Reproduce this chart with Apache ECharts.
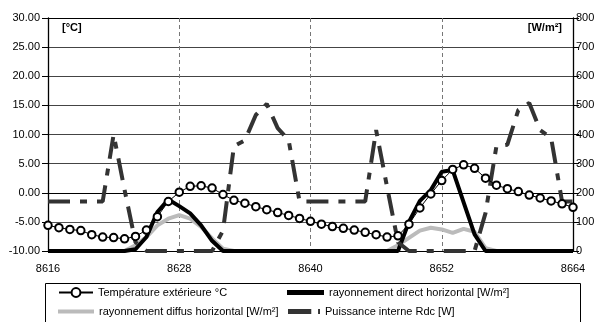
<!DOCTYPE html>
<html><head><meta charset="utf-8">
<script src="https://cdn.jsdelivr.net/npm/echarts@6/dist/echarts.min.js"></script>
<style>html,body{margin:0;padding:0;background:#fff}#c{width:602px;height:322px}</style>
</head><body><div id="c"></div>
<script>
const hours = [8616,8617,8618,8619,8620,8621,8622,8623,8624,8625,8626,8627,8628,8629,8630,8631,8632,8633,8634,8635,8636,8637,8638,8639,8640,8641,8642,8643,8644,8645,8646,8647,8648,8649,8650,8651,8652,8653,8654,8655,8656,8657,8658,8659,8660,8661,8662,8663,8664];
const temperature = [-5.6,-6.0,-6.3,-6.5,-7.2,-7.6,-7.7,-7.9,-7.5,-6.4,-4.1,-1.5,0.1,1.1,1.2,0.8,-0.3,-1.3,-1.8,-2.4,-2.9,-3.4,-3.9,-4.4,-4.9,-5.4,-5.8,-6.1,-6.4,-6.8,-7.2,-7.6,-7.4,-5.4,-2.6,-0.2,2.1,4.0,4.8,4.2,2.5,1.3,0.7,0.2,-0.4,-0.9,-1.4,-1.9,-2.5];
const directRad = [0,0,0,0,0,0,0,0,6,48,134,177,154,129,88,35,0,0,0,0,0,0,0,0,0,0,0,0,0,0,0,0,0,100,172,209,272,278,167,57,0,0,0,0,0,0,0,0,0];
const diffuseRad = [0,0,0,0,0,0,0,0,20,48,88,111,123,111,83,43,8,0,0,0,0,0,0,0,0,0,0,0,0,0,0,0,20,45,70,80,74,62,76,66,10,0,0,0,0,0,0,0,0];
const puissance = [170,170,170,170,170,170,400,210,30,0,0,0,0,0,0,0,70,360,380,467,505,422,381,170,170,170,170,170,170,170,415,220,30,0,0,0,0,0,0,0,130,360,365,484,508,415,388,170,170];
const leftTicks = [-10,30,5];
const rightTicks = [0,800,100];
const seriesNames = ['Température extérieure °C','rayonnement direct horizontal [W/m²]','rayonnement diffus horizontal [W/m²]','Puissance interne Rdc [W]'];

const pair = arr => hours.map((h,i)=>[h,arr[i]]);
const FONT = 'Liberation Sans, Arial, sans-serif';
const chart = echarts.init(document.getElementById('c'), null, {renderer:'canvas'});
const legendBase = {orient:'horizontal', itemGap:0, padding:0, symbolKeepAspect:false, textStyle:{fontFamily:FONT,fontSize:11,color:'#000'}, selectedMode:false};
chart.setOption({
  animation:false,
  backgroundColor:'#fff',
  grid:{left:48,right:29,top:18,bottom:71,containLabel:false},
  xAxis:{type:'value',min:8616,max:8664,interval:12,
    axisLine:{show:true,lineStyle:{color:'#000',width:1}},
    axisTick:{show:false},
    axisLabel:{fontFamily:FONT,fontSize:11,color:'#000',margin:12,formatter:v=>String(v)},
    splitLine:{show:true,lineStyle:{color:'#777',type:[4,3],width:1}}},
  yAxis:[
    {type:'value',min:leftTicks[0],max:leftTicks[1],interval:leftTicks[2],
     axisLine:{show:true,lineStyle:{color:'#000',width:1.3}},
     axisTick:{show:true,inside:false,length:6,lineStyle:{color:'#000'}},
     axisLabel:{fontFamily:FONT,fontSize:11,color:'#000',margin:8,formatter:v=>v.toFixed(2)},
     splitLine:{show:true,lineStyle:{color:['#000','#555','#aaa','#444','#444','#444','#444','#444','#000'],width:1}}},
    {type:'value',min:rightTicks[0],max:rightTicks[1],interval:rightTicks[2],
     axisLine:{show:true,lineStyle:{color:'#000',width:1.3}},
     axisTick:{show:true,inside:false,length:6,lineStyle:{color:'#000'}},
     axisLabel:{fontFamily:FONT,fontSize:11,color:'#000',margin:3},
     splitLine:{show:false}}
  ],
  legend:[
    Object.assign({},legendBase,{data:[seriesNames[0]],left:58,top:287,itemWidth:34,itemHeight:11}),
    Object.assign({},legendBase,{data:[{name:seriesNames[1],icon:'path://M0,0H40V5H0Z'}],left:287,top:287,itemWidth:37,itemHeight:5}),
    Object.assign({},legendBase,{data:[{name:seriesNames[2],icon:'path://M0,0H40V4H0Z'}],left:58,top:306,itemWidth:36,itemHeight:4}),
    Object.assign({},legendBase,{data:[{name:seriesNames[3],icon:'path://M0,0H24V5H0Z M31,0H33V5H31Z'}],left:288,top:306,itemWidth:32,itemHeight:5})
  ],
  graphic:[
    {type:'rect',left:43,top:281,shape:{width:535,height:60},style:{fill:'none',stroke:'#000',lineWidth:1},silent:true},
    {type:'text',left:62,top:22,style:{text:'[°C]',font:'bold 11px '+FONT,fill:'#000'}},
    {type:'text',right:40,top:22,style:{text:'[W/m²]',font:'bold 11px '+FONT,fill:'#000'}}
  ],
  series:[
    {name:seriesNames[2],type:'line',yAxisIndex:1,data:pair(diffuseRad),showSymbol:false,symbol:'none',z:2,
     lineStyle:{color:'#bbb',width:4},itemStyle:{color:'#bbb'}},
    {name:seriesNames[1],type:'line',yAxisIndex:1,data:pair(directRad),showSymbol:false,symbol:'none',z:3,
     lineStyle:{color:'#000',width:4},itemStyle:{color:'#000'}},
    {name:seriesNames[3],type:'line',yAxisIndex:1,data:pair(puissance),showSymbol:false,symbol:'none',z:4,
     lineStyle:{color:'#333',width:4,type:[22,10,7,10],cap:'butt'},itemStyle:{color:'#333'}},
    {name:seriesNames[0],type:'line',yAxisIndex:0,data:pair(temperature),symbol:'emptyCircle',symbolSize:7.5,z:5,
     lineStyle:{color:'#000',width:1},itemStyle:{color:'#000',borderColor:'#000',borderWidth:1}}
  ]
});
</script></body></html>
